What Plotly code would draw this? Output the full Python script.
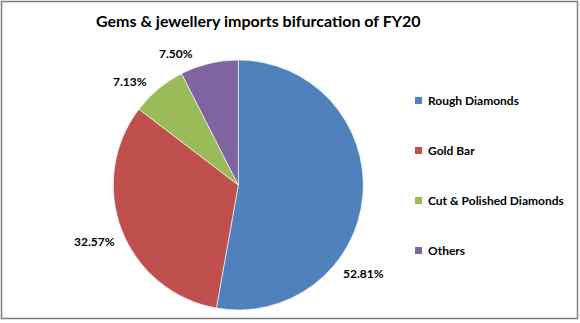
import math
import plotly.graph_objects as go

# Import share by category, FY20 (percent)
categories = ["Rough Diamonds", "Gold Bar", "Cut & Polished Diamonds", "Others"]
shares = [52.81, 32.57, 7.13, 7.50]
colors = ["#4F81BD", "#C0504D", "#9BBB59", "#8064A2"]
title_text = "Gems & jewellery imports bifurcation of FY20"

# Angular nudges (degrees) for the outside labels so small slices don't crowd
label_nudge = [30, 0, -6.4, -12]

W, H = 580, 323
FONT = "Lato, Liberation Sans, sans-serif"

# Pie placement in pixels
CX, CY, R = 238.3, 185.0, 125.0

fig = go.Figure()

fig.add_trace(go.Pie(
    labels=categories,
    values=shares,
    sort=False,
    direction="clockwise",
    rotation=0,
    marker=dict(colors=colors, line=dict(color="#FFFFFF", width=0.6)),
    textinfo="none",
    domain=dict(x=[(CX - R) / W, (CX + R) / W], y=[(H - CY - R) / H, (H - CY + R) / H]),
    showlegend=False,
    hoverinfo="label+percent",
))

annotations = []

# Percentage labels just outside each slice, from the cumulative shares
total = sum(shares)
cum = 0.0
for val, nudge in zip(shares, label_nudge):
    mid = (cum + val / 2) / total * 360.0 + nudge
    cum += val
    txt = f"{val:.2f}%"
    ux, uy = math.sin(math.radians(mid)), -math.cos(math.radians(mid))
    hw, hh = 3.45 * len(txt), 6.0
    dist = R + 8 + abs(ux) * hw + abs(uy) * hh
    px, py = CX + ux * dist, CY + uy * dist
    annotations.append(dict(
        text=f"<b>{txt}</b>", x=px / W, y=1 - py / H,
        xref="paper", yref="paper", xanchor="center", yanchor="middle",
        showarrow=False, font=dict(family=FONT, size=12, color="#000000"),
    ))

# Legend: coloured square plus category name, evenly spaced
shapes = []
LX, LY0, LSTEP, SQ = 415.0, 100.5, 50.0, 7.0
for i, (name, col) in enumerate(zip(categories, colors)):
    y = LY0 + i * LSTEP
    shapes.append(dict(
        type="rect", xref="paper", yref="paper",
        x0=LX / W, x1=(LX + SQ) / W,
        y0=1 - (y + SQ / 2) / H, y1=1 - (y - SQ / 2) / H,
        fillcolor=col, line=dict(width=0),
    ))
    annotations.append(dict(
        text=f"<b>{name.replace('&', '&amp;')}</b>",
        x=(LX + SQ + 3.5) / W, y=1 - y / H,
        xref="paper", yref="paper", xanchor="left", yanchor="middle",
        showarrow=False, font=dict(family=FONT, size=12, color="#000000"),
    ))

annotations.append(dict(
    text="<b>" + title_text.replace("&", "&amp;") + "</b>",
    x=258 / W, y=1 - 21 / H, xref="paper", yref="paper",
    xanchor="center", yanchor="middle", showarrow=False,
    font=dict(family=FONT, size=16, color="#000000"),
))

# Chart frame
shapes.append(dict(
    type="rect", xref="paper", yref="paper",
    x0=1.5 / W, x1=577.5 / W, y0=1 - 318.5 / H, y1=1 - 1.5 / H,
    line=dict(color="#7F7F7F", width=1.5), layer="above",
))

fig.update_layout(
    width=W, height=H,
    margin=dict(l=0, r=0, t=0, b=0),
    paper_bgcolor="#FFFFFF",
    annotations=annotations,
    shapes=shapes,
)

fig.write_html("out.html")
